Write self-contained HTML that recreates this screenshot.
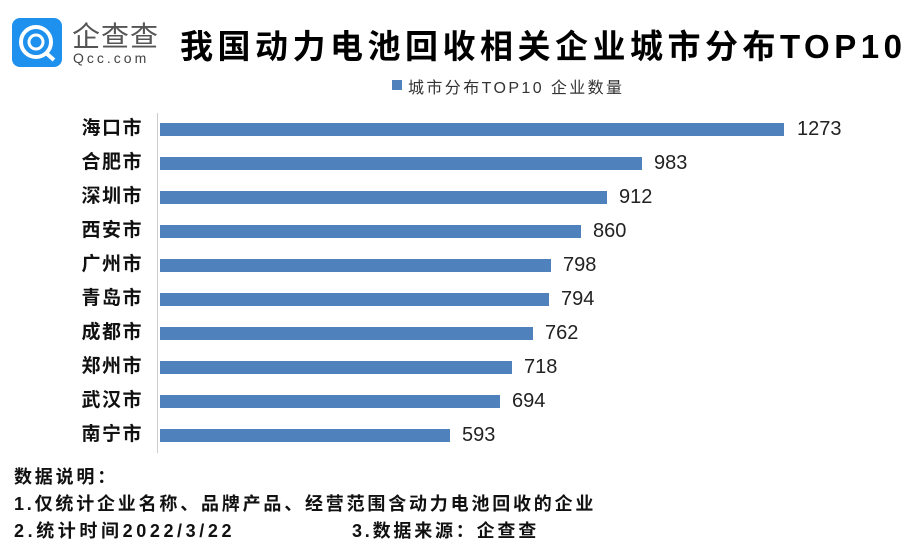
<!DOCTYPE html>
<html><head><meta charset="utf-8"><style>
body{margin:0;width:921px;height:556px;background:#fff;position:relative;overflow:hidden;font-family:"Liberation Sans","Noto Sans CJK SC",sans-serif;}
.a{position:absolute;white-space:nowrap;}
.bar{position:absolute;left:160px;height:13px;background:#4f81bd;}
.lab{position:absolute;right:778px;font-size:19px;font-weight:bold;color:#111;line-height:20px;letter-spacing:1.5px;}
.val{position:absolute;font-size:20px;color:#222;line-height:20px;}
.f{position:absolute;left:14px;font-size:18px;font-weight:bold;color:#111;letter-spacing:2.8px;}
</style></head><body>
<div class="a" style="left:12px;top:18px;width:50px;height:49px;background:#1e90ee;border-radius:8px;"></div>
<svg class="a" style="left:12px;top:18px" width="50" height="49"><circle cx="24" cy="24" r="15" fill="none" stroke="#fff" stroke-width="4"/><circle cx="24" cy="24" r="7" fill="none" stroke="#fff" stroke-width="3"/><line x1="34" y1="35" x2="42" y2="42" stroke="#fff" stroke-width="4"/></svg>
<div class="a" style="left:72px;top:15px;font-size:28px;color:#555;letter-spacing:1px;">企查查</div>
<div class="a" style="left:73px;top:50px;font-size:14px;color:#444;letter-spacing:3px;">Qcc.com</div>
<div class="a" style="left:180px;top:20px;font-size:33px;font-weight:bold;color:#000;letter-spacing:4.5px;">我国动力电池回收相关企业城市分布TOP10</div>
<div class="a" style="left:392px;top:80px;width:10px;height:10px;background:#4f81bd;"></div>
<div class="a" style="left:408px;top:74px;font-size:16px;color:#333;letter-spacing:2.4px;">城市分布TOP10 企业数量</div>
<div class="a" style="left:157px;top:113px;width:1px;height:340px;background:#ccc;"></div>
<div class="bar" style="top:123px;width:624px"></div><div class="lab" style="top:119px">海口市</div><div class="val" style="left:797px;top:119px">1273</div>
<div class="bar" style="top:157px;width:482px"></div><div class="lab" style="top:153px">合肥市</div><div class="val" style="left:654px;top:153px">983</div>
<div class="bar" style="top:191px;width:447px"></div><div class="lab" style="top:187px">深圳市</div><div class="val" style="left:619px;top:187px">912</div>
<div class="bar" style="top:225px;width:421px"></div><div class="lab" style="top:221px">西安市</div><div class="val" style="left:593px;top:221px">860</div>
<div class="bar" style="top:259px;width:391px"></div><div class="lab" style="top:255px">广州市</div><div class="val" style="left:563px;top:255px">798</div>
<div class="bar" style="top:293px;width:389px"></div><div class="lab" style="top:289px">青岛市</div><div class="val" style="left:561px;top:289px">794</div>
<div class="bar" style="top:327px;width:373px"></div><div class="lab" style="top:323px">成都市</div><div class="val" style="left:545px;top:323px">762</div>
<div class="bar" style="top:361px;width:352px"></div><div class="lab" style="top:357px">郑州市</div><div class="val" style="left:524px;top:357px">718</div>
<div class="bar" style="top:395px;width:340px"></div><div class="lab" style="top:391px">武汉市</div><div class="val" style="left:512px;top:391px">694</div>
<div class="bar" style="top:429px;width:290px"></div><div class="lab" style="top:425px">南宁市</div><div class="val" style="left:462px;top:425px">593</div>
<div class="f" style="top:463px">数据说明：</div>
<div class="f" style="top:490px">1.仅统计企业名称、品牌产品、经营范围含动力电池回收的企业</div>
<div class="f" style="top:517px;letter-spacing:3.6px">2.统计时间2022/3/22</div>
<div class="f" style="left:352px;top:517px">3.数据来源：企查查</div>
</body></html>
